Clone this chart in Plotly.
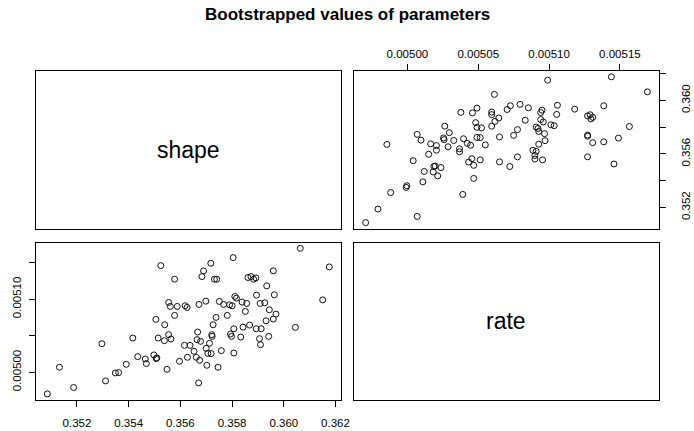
import plotly.graph_objects as go

# Bootstrapped parameter samples
shape = [
    0.350854, 0.351324, 0.351872, 0.352966, 0.353106, 0.353487, 0.353614, 0.353907, 0.354161, 0.354352,
    0.354645, 0.354683, 0.354975, 0.355052, 0.355064, 0.355090, 0.355141, 0.355243, 0.355396, 0.355383,
    0.355485, 0.355548, 0.355548, 0.355612, 0.355637, 0.355777, 0.355777, 0.355879, 0.355968, 0.356159,
    0.356185, 0.356261, 0.356274, 0.356375, 0.356528, 0.356617, 0.356668, 0.356643, 0.356706, 0.356744,
    0.356782, 0.356719, 0.356833, 0.356897, 0.356986, 0.356999, 0.357024, 0.357126, 0.357063, 0.357177,
    0.357190, 0.357215, 0.357228, 0.357266, 0.357317, 0.357381, 0.357406, 0.357457, 0.357508, 0.357584,
    0.357673, 0.357813, 0.357902, 0.357940, 0.357978, 0.358004, 0.358042, 0.358068, 0.358068, 0.358106,
    0.358170, 0.358335, 0.358386, 0.358424, 0.358513, 0.358564, 0.358615, 0.358679, 0.358730, 0.358832,
    0.358921, 0.358946, 0.358933, 0.359061, 0.359086, 0.359099, 0.359124, 0.359264, 0.359315, 0.359340,
    0.359417, 0.359442, 0.359595, 0.359595, 0.359633, 0.359697, 0.360447, 0.360638, 0.361504, 0.361758,
]
rate = [
    0.0049705, 0.0050069, 0.0049792, 0.0050391, 0.0049882, 0.0049991, 0.0049996, 0.0050109, 0.0050468, 0.0050214,
    0.0050182, 0.0050119, 0.0050237, 0.0050723, 0.0050187, 0.0050196, 0.0050468, 0.0051458, 0.0050650, 0.0050432,
    0.0050041, 0.0050514, 0.0050954, 0.0050900, 0.0050455, 0.0051272, 0.0050777, 0.0050900, 0.0050150, 0.0050368,
    0.0050909, 0.0050886, 0.0050205, 0.0050368, 0.0050287, 0.0050205, 0.0050550, 0.0050446, 0.0049855, 0.0050164,
    0.0050423, 0.0050927, 0.0051308, 0.0051386, 0.0050972, 0.0050327, 0.0050096, 0.0050396, 0.0050259, 0.0051490,
    0.0050255, 0.0050514, 0.0050491, 0.0050650, 0.0051272, 0.0050750, 0.0051272, 0.0050069, 0.0050968, 0.0050296,
    0.0050927, 0.0050777, 0.0050922, 0.0050523, 0.0050491, 0.0050909, 0.0051567, 0.0050595, 0.0050264, 0.0051036,
    0.0051013, 0.0050482, 0.0050959, 0.0050618, 0.0050832, 0.0050941, 0.0051295, 0.0050645, 0.0051308, 0.0051272,
    0.0051290, 0.0051054, 0.0050595, 0.0050459, 0.0050941, 0.0050377, 0.0050595, 0.0050950, 0.0050704, 0.0051181,
    0.0050491, 0.0050854, 0.0050727, 0.0051386, 0.0051059, 0.0050795, 0.0050614, 0.0051694, 0.0050990, 0.0051440,
]

var_names = ["shape", "rate"]
title_text = "Bootstrapped values of parameters"

shape_ticks = [0.352, 0.354, 0.356, 0.358, 0.360, 0.362]
shape_labels_bottom = ["0.352", "0.354", "0.356", "0.358", "0.360", "0.362"]
shape_labels_right = ["0.352", "", "0.356", "", "0.360", ""]
rate_ticks = [0.00500, 0.00505, 0.00510, 0.00515]
rate_labels_top = ["0.00500", "0.00505", "0.00510", "0.00515"]
rate_labels_left = ["0.00500", "", "0.00510", ""]


def r_range(v):
    lo, hi = min(v), max(v)
    pad = 0.04 * (hi - lo)
    return [lo - pad, hi + pad]


FONT = "Liberation Sans, Arial, sans-serif"
W, H = 694, 431
col1 = [36.5 / W, 345.0 / W]
col2 = [359.0 / W, 667.3 / W]
row_top = [1 - 228.5 / H, 1 - 71.0 / H]
row_bot = [1 - 399.7 / H, 1 - 242.5 / H]

fig = go.Figure()

marker = dict(symbol="circle-open", size=6, color="#111111", line=dict(width=1, color="#111111"))

# lower-left: x = shape, y = rate
fig.add_trace(go.Scatter(x=shape, y=rate, mode="markers", marker=marker,
                         xaxis="x", yaxis="y", showlegend=False, hoverinfo="skip"))
# upper-right: x = rate, y = shape
fig.add_trace(go.Scatter(x=rate, y=shape, mode="markers", marker=marker,
                         xaxis="x2", yaxis="y2", showlegend=False, hoverinfo="skip"))

box = dict(showline=True, mirror=True, linecolor="#000000", linewidth=1,
           showgrid=False, zeroline=False)
tickstyle = dict(ticks="outside", ticklen=6, tickwidth=1, tickcolor="#000000",
                 tickfont=dict(family=FONT, size=11.5, color="#000000"))

fig.update_layout(
    width=W, height=H,
    margin=dict(l=0, r=0, t=0, b=0),
    paper_bgcolor="white", plot_bgcolor="white",
    xaxis=dict(domain=col1, anchor="y", side="bottom", range=r_range(shape),
               tickvals=shape_ticks, ticktext=shape_labels_bottom, ticklabelstandoff=6,
               **box, **tickstyle),
    yaxis=dict(domain=row_bot, anchor="x", side="left", range=r_range(rate),
               tickvals=rate_ticks, ticktext=rate_labels_left, tickangle=-90, ticklabelstandoff=3,
               **box, **tickstyle),
    xaxis2=dict(domain=col2, anchor="y2", side="top", range=r_range(rate),
                tickvals=rate_ticks, ticktext=rate_labels_top, ticklabelstandoff=1,
                **box, **tickstyle),
    yaxis2=dict(domain=row_top, anchor="x2", side="right", range=r_range(shape),
                tickvals=shape_ticks, ticktext=shape_labels_right, tickangle=-90, ticklabelstandoff=11,
                **box, **tickstyle),
    xaxis3=dict(domain=col1, anchor="y3", range=[0, 1], showticklabels=False, ticks="", **box),
    yaxis3=dict(domain=row_top, anchor="x3", range=[0, 1], showticklabels=False, ticks="", **box),
    xaxis4=dict(domain=col2, anchor="y4", range=[0, 1], showticklabels=False, ticks="", **box),
    yaxis4=dict(domain=row_bot, anchor="x4", range=[0, 1], showticklabels=False, ticks="", **box),
)

# dummy invisible traces so the empty diagonal axes are drawn
fig.add_trace(go.Scatter(x=[None], y=[None], xaxis="x3", yaxis="y3", showlegend=False))
fig.add_trace(go.Scatter(x=[None], y=[None], xaxis="x4", yaxis="y4", showlegend=False))

fig.add_annotation(text=var_names[0], xref="x3 domain", yref="y3 domain", x=0.5, y=0.5,
                   showarrow=False, font=dict(family=FONT, size=23, color="#000000"))
fig.add_annotation(text=var_names[1], xref="x4 domain", yref="y4 domain", x=0.5, y=0.5,
                   showarrow=False, font=dict(family=FONT, size=23, color="#000000"))

fig.add_annotation(text="<b>" + title_text + "</b>", xref="paper", yref="paper",
                   x=(col1[0] + col2[1]) / 2, y=1 - 14.5 / H, xanchor="center", yanchor="middle",
                   showarrow=False, font=dict(family=FONT, size=17, color="#000000"))

fig.write_html("out.html")
